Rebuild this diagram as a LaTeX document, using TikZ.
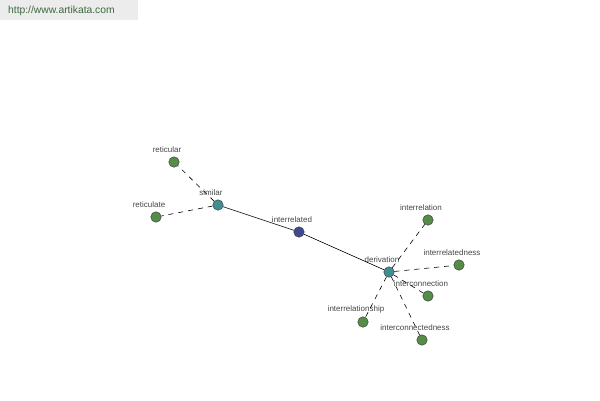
\documentclass[tikz,border=0pt]{standalone}
\usepackage{fontspec}
\setmainfont{Liberation Sans}
\usepackage{tikz}
\usetikzlibrary{positioning}
\definecolor{wordgreen}{RGB}{84,140,72}
\definecolor{wordteal}{RGB}{64,142,146}
\definecolor{wordnavy}{RGB}{64,72,146}
\definecolor{labelgray}{RGB}{70,70,70}
\definecolor{bannergray}{RGB}{236,236,236}
\definecolor{bannertext}{RGB}{62,104,62}

\begin{document}
\begin{tikzpicture}[x=1pt,y=-1pt,
    word/.style={draw=black!80,circle,fill=wordgreen,minimum size=10.5pt,inner sep=0pt,
                 label distance=-1pt},
    hub/.style={word,fill=wordteal},
    root/.style={word,fill=wordnavy},
    every label/.style={text=labelgray,font=\fontsize{8}{9}\selectfont,xshift=-7pt},
    link/.style={draw=black,line width=0.6pt},
    rel/.style={link,dash pattern=on 5pt off 5pt}]
    \useasboundingbox (0,0) rectangle (600,400);

    % the banner in the corner
    \fill[bannergray] (0,0) rectangle (138,20);
    \node (site) [anchor=west,text=bannertext,font=\fontsize{10.3}{12}\selectfont,inner sep=0pt]
        at (8,11) {http://www.artikata.com};

    % the words
    \node (interrelated) [root,label=above:interrelated] at (299,232) {};
    \node (similar) [hub,label=above:similar] at (218,205) {};
    \node (derivation) [hub,label=above:derivation] at (389,272) {};

    \node (reticular) [word,label=above:reticular] at (174,162) {};
    \node (reticulate) [word,label=above:reticulate] at (156,217) {};

    \node (interrelation) [word,label=above:interrelation] at (428,220) {};
    \node (interrelatedness) [word,label=above:interrelatedness] at (459,265) {};
    \node (interconnection) [word,label=above:interconnection] at (428,296) {};
    \node (interrelationship) [word,label=above:interrelationship] at (363,322) {};
    \node (interconnectedness) [word,label=above:interconnectedness] at (422,340) {};

    % solid links
    \draw[link] (similar) -- (interrelated);
    \draw[link] (interrelated) -- (derivation);

    % dashed links
    \draw[rel] (similar) -- (reticular);
    \draw[rel] (similar) -- (reticulate);
    \draw[rel] (derivation) -- (interrelation);
    \draw[rel] (derivation) -- (interrelatedness);
    \draw[rel] (derivation) -- (interconnection);
    \draw[rel] (derivation) -- (interrelationship);
    \draw[rel] (derivation) -- (interconnectedness);
\end{tikzpicture}
\end{document}
